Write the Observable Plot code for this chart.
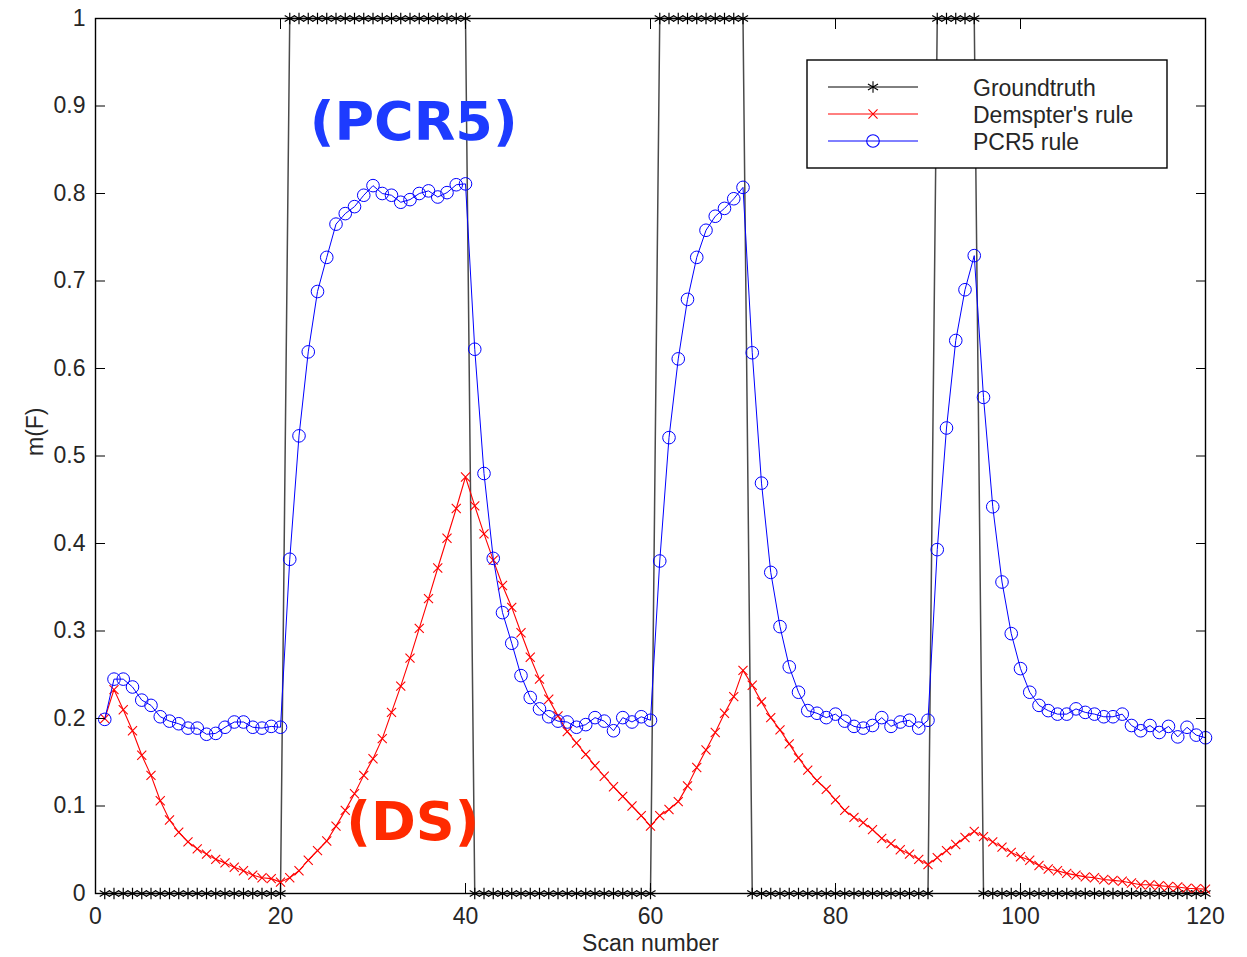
<!DOCTYPE html>
<html>
<head>
<meta charset="utf-8">
<script src="https://cdn.jsdelivr.net/npm/d3@7"></script>
<script src="https://cdn.jsdelivr.net/npm/@observablehq/plot@0.6"></script>
<style>
  body { margin: 0; background: #fff; }
  #chart { position: relative; width: 1247px; height: 957px; }
  #legend { position: absolute; left: 806px; top: 59px; }
</style>
</head>
<body>
<div id="chart"></div>
<script>
// m(F) per scan (scans 1..120)
const groundtruth = [
  0,0,0,0,0,0,0,0,0,0, 0,0,0,0,0,0,0,0,0,0,
  1,1,1,1,1,1,1,1,1,1, 1,1,1,1,1,1,1,1,1,1,
  0,0,0,0,0,0,0,0,0,0, 0,0,0,0,0,0,0,0,0,0,
  1,1,1,1,1,1,1,1,1,1,
  0,0,0,0,0,0,0,0,0,0, 0,0,0,0,0,0,0,0,0,0,
  1,1,1,1,1,
  0,0,0,0,0,0,0,0,0,0, 0,0,0,0,0,0,0,0,0,0, 0,0,0,0,0
];

const dempster = [
  0.200,0.233,0.210,0.186,0.158,0.135,0.106,0.084,0.070,0.059,
  0.051,0.045,0.039,0.035,0.030,0.026,0.021,0.018,0.017,0.013,
  0.018,0.026,0.038,0.049,0.060,0.077,0.095,0.114,0.135,0.154,
  0.177,0.207,0.237,0.269,0.303,0.337,0.372,0.406,0.440,0.476,
  0.443,0.411,0.381,0.352,0.327,0.298,0.270,0.245,0.222,0.203,
  0.185,0.172,0.159,0.146,0.134,0.122,0.111,0.100,0.089,0.077,
  0.089,0.096,0.105,0.123,0.144,0.164,0.184,0.206,0.225,0.255,
  0.238,0.219,0.201,0.187,0.171,0.155,0.141,0.129,0.119,0.107,
  0.095,0.087,0.081,0.073,0.063,0.057,0.050,0.045,0.039,0.033,
  0.041,0.049,0.056,0.064,0.071,0.065,0.059,0.053,0.047,0.042,
  0.038,0.032,0.028,0.026,0.023,0.021,0.019,0.018,0.016,0.015,
  0.014,0.012,0.010,0.010,0.009,0.008,0.0075,0.006,0.0055,0.005
];

const pcr5 = [
  0.199,0.245,0.245,0.236,0.221,0.215,0.202,0.197,0.194,0.189,
  0.189,0.182,0.183,0.190,0.196,0.196,0.190,0.189,0.191,0.190,
  0.382,0.523,0.619,0.688,0.727,0.765,0.777,0.785,0.798,0.809,
  0.800,0.798,0.790,0.793,0.800,0.803,0.796,0.801,0.810,0.811,
  0.622,0.480,0.383,0.321,0.286,0.249,0.224,0.211,0.202,0.197,
  0.196,0.190,0.193,0.201,0.197,0.186,0.201,0.196,0.202,0.198,
  0.380,0.521,0.611,0.679,0.727,0.758,0.774,0.783,0.794,0.807,
  0.618,0.469,0.367,0.305,0.259,0.230,0.209,0.206,0.201,0.205,
  0.197,0.191,0.189,0.192,0.201,0.191,0.196,0.198,0.189,0.198,
  0.393,0.532,0.632,0.690,0.729,0.567,0.442,0.356,0.297,0.257,
  0.230,0.215,0.209,0.205,0.205,0.211,0.207,0.205,0.202,0.202,
  0.205,0.192,0.186,0.192,0.184,0.191,0.179,0.190,0.181,0.178
];

const xTicks = [0, 20, 40, 60, 80, 100, 120];
const yTicks = [0, 0.1, 0.2, 0.3, 0.4, 0.5, 0.6, 0.7, 0.8, 0.9, 1];
const seriesNames = ["Groundtruth", "Demspter's rule", "PCR5 rule"];
const seriesColors = ["#000000", "#ff0000", "#0000ff"];
const seriesSymbols = ["asterisk", "times", "circle"];

// Callouts naming the two combination rules
const pcrNote = [{text: "(PCR5)", scan: 34.4, value: 0.881}];
const dsNote = [{text: "(DS)", scan: 34.3, value: 0.081}];

const asRows = values => values.map((value, i) => ({scan: i + 1, value}));
const gtRows = asRows(groundtruth);
const dsRows = asRows(dempster);
const pcrRows = asRows(pcr5);

const font = "'Liberation Sans', Arial, Helvetica, sans-serif";
const plain = d => String(d);
const markerR = [5.5, 4.2, 6.3];

const chart = Plot.plot({
  width: 1247,
  height: 957,
  marginLeft: 95,
  marginRight: 42,
  marginTop: 18,
  marginBottom: 64,
  x: {domain: [0, 120]},
  y: {domain: [0, 1]},
  style: {fontFamily: font, fontSize: "23px", color: "#262626", background: "#fff", overflow: "visible"},
  marks: [
    Plot.line(gtRows, {x: "scan", y: "value", stroke: "#4a4a4a", strokeWidth: 1.5}),
    Plot.dot(gtRows, {x: "scan", y: "value", symbol: "asterisk", r: markerR[0], stroke: seriesColors[0], strokeWidth: 1.2}),
    Plot.line(dsRows, {x: "scan", y: "value", stroke: seriesColors[1], strokeWidth: 1.1}),
    Plot.dot(dsRows, {x: "scan", y: "value", symbol: "times", r: markerR[1], stroke: seriesColors[1], strokeWidth: 1.1}),
    Plot.line(pcrRows, {x: "scan", y: "value", stroke: seriesColors[2], strokeWidth: 1}),
    Plot.dot(pcrRows, {x: "scan", y: "value", r: markerR[2], stroke: seriesColors[2], fill: "none", strokeWidth: 1}),
    Plot.frame({stroke: "#000", strokeWidth: 1.4}),
    Plot.axisX({anchor: "bottom", ticks: xTicks, tickSize: -10, tickPadding: 24, tickFormat: plain, label: null, stroke: "#000"}),
    Plot.axisX({anchor: "top", ticks: xTicks, tickSize: -10, tickFormat: () => "", label: null, stroke: "#000"}),
    Plot.axisY({anchor: "left", ticks: yTicks, tickSize: -10, tickPadding: 20, tickFormat: plain, label: null, stroke: "#000"}),
    Plot.axisY({anchor: "right", ticks: yTicks, tickSize: -10, tickFormat: () => "", label: null, stroke: "#000"}),
    Plot.text(["Scan number"], {frameAnchor: "bottom", dy: 57}),
    Plot.text(["m(F)"], {frameAnchor: "left", dx: -60, rotate: -90}),
    Plot.text(pcrNote, {x: "scan", y: "value", text: "text", fill: "#1d3bff", fontSize: 54, fontWeight: "bold", fontFamily: "'DejaVu Sans', sans-serif"}),
    Plot.text(dsNote, {x: "scan", y: "value", text: "text", fill: "#ff2a00", fontSize: 54, fontWeight: "bold", fontFamily: "'DejaVu Sans', sans-serif"})
  ]
});
document.getElementById("chart").appendChild(chart);

// Legend box
const lw = 362, lh = 110;
const legend = d3.select("#chart").append("svg")
  .attr("id", "legend").attr("width", lw).attr("height", lh);
legend.append("rect").attr("x", 1).attr("y", 1).attr("width", lw - 2).attr("height", lh - 2)
  .attr("fill", "#fff").attr("stroke", "#000").attr("stroke-width", 1.4);
const symbolTypes = {asterisk: d3.symbolAsterisk, times: d3.symbolTimes, circle: d3.symbolCircle};
seriesNames.forEach((name, i) => {
  const cy = 28 + i * 27;
  const g = legend.append("g").attr("transform", `translate(0,${cy})`);
  g.append("line").attr("x1", 22).attr("x2", 112).attr("y1", 0).attr("y2", 0)
    .attr("stroke", seriesColors[i]).attr("stroke-width", 1);
  g.append("path")
    .attr("d", d3.symbol(symbolTypes[seriesSymbols[i]], Math.PI * markerR[i] * markerR[i])())
    .attr("transform", "translate(67,0)")
    .attr("fill", "none").attr("stroke", seriesColors[i]).attr("stroke-width", 1.1);
  g.append("text").attr("x", 167).attr("y", 8.5)
    .attr("font-family", font).attr("font-size", 23)
    .attr("fill", "#262626").text(name);
});
</script>
</body>
</html>
